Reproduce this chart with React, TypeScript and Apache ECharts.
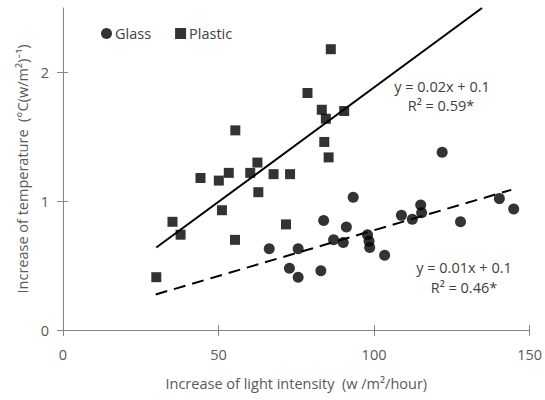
import React, { useEffect, useRef } from "react";
import * as echarts from "echarts";

const glassData: number[][] = [
  [121.9, 1.38], [93.3, 1.03], [140.3, 1.02], [144.9, 0.94], [115.0, 0.97],
  [115.3, 0.91], [108.8, 0.89], [112.3, 0.86], [127.8, 0.84], [83.8, 0.85],
  [91.1, 0.80], [97.9, 0.74], [98.4, 0.69], [98.6, 0.64], [87.0, 0.70],
  [90.1, 0.68], [103.4, 0.58], [66.3, 0.63], [75.6, 0.63], [72.8, 0.48],
  [75.6, 0.41], [82.9, 0.46],
];

const plasticData: number[][] = [
  [86.1, 2.18], [78.6, 1.84], [83.2, 1.71], [90.4, 1.70], [84.5, 1.64],
  [55.4, 1.55], [84.0, 1.46], [85.4, 1.34], [62.5, 1.30], [44.2, 1.18],
  [50.1, 1.16], [53.3, 1.22], [60.2, 1.22], [67.7, 1.21], [73.0, 1.21],
  [62.8, 1.07], [35.2, 0.84], [37.8, 0.74], [51.1, 0.93], [55.3, 0.70],
  [71.7, 0.82], [30.0, 0.41],
];

const plasticTrend: number[][] = [[30, 0.64], [134.7, 2.5]];
const glassTrend: number[][] = [[29.8, 0.276], [144.1, 1.088]];

const xTicks = [0, 50, 100, 150];
const yTicks = [0, 1, 2];

const plasticEq = ["y = 0.02x + 0.1", "R\u00B2 = 0.59*"];
const glassEq = ["y = 0.01x + 0.1", "R\u00B2 = 0.46*"];

const FONT = "'Open Sans', 'Noto Sans', sans-serif";
const AXIS = "#868686";
const LABEL = "#595959";
const TEXT = "#404040";
const MARK = "#000000";
const FS = 14.5;

export default function App() {
  const ref = useRef<HTMLDivElement>(null);
  useEffect(() => {
    if (!ref.current) return;
    const chart = echarts.init(ref.current, undefined, { renderer: "svg" });
    const xBase = {
      type: "value" as const,
      min: 0,
      max: 150,
      interval: 50,
      splitLine: { show: false },
    };
    const yBase = {
      type: "value" as const,
      min: 0,
      max: 2.5,
      interval: 1,
      splitLine: { show: false },
    };
    const eqStyle = (text: string) => ({
      text,
      fill: TEXT,
      font: `${FS}px ${FONT}`,
      align: "center",
      verticalAlign: "middle",
    });
    chart.setOption({
      animation: false,
      textStyle: { fontFamily: FONT },
      grid: { left: 63, right: 14, top: 8, bottom: 70 },
      legend: {
        left: 96,
        top: 21,
        itemWidth: 11,
        itemHeight: 11,
        itemGap: 24,
        textStyle: { fontFamily: FONT, fontSize: FS, color: TEXT, padding: [0, 0, 0, -2] },
        data: [
          { name: "Glass", icon: "circle" },
          { name: "Plastic", icon: "rect" },
        ],
      },
      xAxis: [
        {
          ...xBase,
          name: "Increase of light intensity  (w /m\u00B2/hour)",
          nameLocation: "middle",
          nameGap: 46,
          nameTextStyle: { fontFamily: FONT, fontSize: FS, color: LABEL },
          axisLine: { show: true, lineStyle: { color: AXIS, width: 1 } },
          axisTick: { show: true, length: 6, lineStyle: { color: AXIS }, customValues: xTicks },
          axisLabel: { color: LABEL, fontSize: FS, fontFamily: FONT, margin: 17, customValues: xTicks },
        },
        {
          ...xBase,
          position: "bottom",
          axisLine: { show: false },
          axisTick: { show: true, inside: true, length: 5, lineStyle: { color: AXIS }, customValues: xTicks },
          axisLabel: { show: false },
        },
      ],
      yAxis: [
        {
          ...yBase,
          name: "Increase of temperature  (\u00B0C(w/m\u00B2)\u207B\u00B9)",
          nameLocation: "middle",
          nameGap: 27,
          nameRotate: 90,
          nameTextStyle: { fontFamily: FONT, fontSize: FS, color: LABEL },
          axisLine: { show: true, lineStyle: { color: AXIS, width: 1 } },
          axisTick: { show: true, length: 6, lineStyle: { color: AXIS }, customValues: yTicks },
          axisLabel: { color: LABEL, fontSize: FS, fontFamily: FONT, margin: 14, customValues: yTicks },
        },
        {
          ...yBase,
          position: "left",
          axisLine: { show: false },
          axisTick: { show: true, inside: true, length: 5, lineStyle: { color: AXIS }, customValues: yTicks },
          axisLabel: { show: false },
        },
      ],
      series: [
        {
          name: "Glass",
          type: "scatter",
          symbol: "circle",
          symbolSize: 11,
          itemStyle: { color: MARK },
          data: glassData,
          z: 3,
        },
        {
          name: "Plastic",
          type: "scatter",
          symbol: "rect",
          symbolSize: 10,
          itemStyle: { color: MARK },
          data: plasticData,
          z: 3,
        },
        {
          name: "plasticTrend",
          type: "line",
          showSymbol: false,
          symbol: "none",
          lineStyle: { color: "#000", width: 2, type: "solid" },
          data: plasticTrend,
          z: 2,
          silent: true,
        },
        {
          name: "glassTrend",
          type: "line",
          showSymbol: false,
          symbol: "none",
          lineStyle: { color: "#000", width: 2, type: [12, 7] },
          data: glassTrend,
          z: 2,
          silent: true,
        },
      ],
      graphic: [
        { type: "text", x: 442, y: 86, style: eqStyle(plasticEq[0]) },
        { type: "text", x: 441, y: 105, style: eqStyle(plasticEq[1]) },
        { type: "text", x: 464, y: 267, style: eqStyle(glassEq[0]) },
        { type: "text", x: 464, y: 287, style: eqStyle(glassEq[1]) },
      ],
    });
    return () => chart.dispose();
  }, []);
  return <div ref={ref} style={{ width: 545, height: 400, position: "absolute", left: 0, top: 0 }} />;
}
